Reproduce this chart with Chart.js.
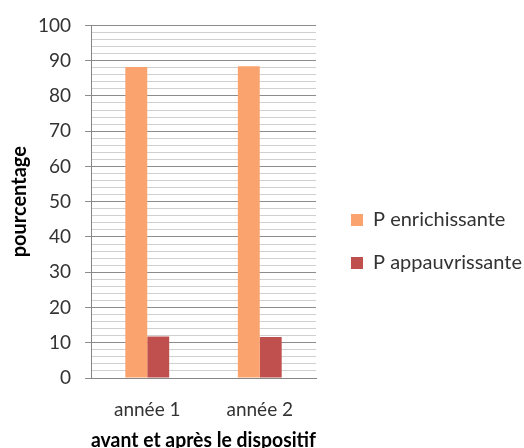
<!DOCTYPE html>
<html>
<head>
<meta charset="utf-8">
<script src="https://cdn.jsdelivr.net/npm/chart.js@4"></script>
<style>
  body { margin: 0; background: #fff; }
</style>
</head>
<body>
<canvas id="myChart" width="524" height="448"></canvas>
<script>
const categories = ['année 1', 'année 2'];
const enrichissante = [88.2, 88.4];
const appauvrissante = [11.8, 11.6];
const yTicks = [0, 10, 20, 30, 40, 50, 60, 70, 80, 90, 100];

// legend sits right of the plot, a bit lower than the chart area centre
const legendPlace = {
    id: 'legendPlace',
    beforeUpdate(chart) {
        const lg = chart.legend;
        if (lg && !lg._patched) {
            const fit = lg.fit;
            lg.fit = function () { fit.call(this); this.width = 208; };
            lg._patched = true;
        }
    },
    afterLayout(chart) {
        const lg = chart.legend;
        lg.left += 12; lg.right += 12;
        lg.top += 5; lg.bottom += 5;
    }
};

const ctx = document.getElementById('myChart');
new Chart(ctx, {
    type: 'bar',
    data: {
        labels: categories,
        datasets: [{
            label: 'P enrichissante',
            data: enrichissante,
            backgroundColor: '#FBA36F',
            categoryPercentage: 0.39,
            barPercentage: 1
        },
        {
            label: 'P appauvrissante',
            data: appauvrissante,
            backgroundColor: '#C0504D',
            categoryPercentage: 0.39,
            barPercentage: 1
        }]
    },
    plugins: [legendPlace],
    options: {
        responsive: false,
        animation: false,
        layout: {
            padding: { left: 8, right: 0, top: 25, bottom: 0 }
        },
        plugins: {
            legend: {
                position: 'right',
                labels: {
                    boxWidth: 12,
                    boxHeight: 12,
                    padding: 23,
                    color: '#333',
                    font: { family: 'Lato', size: 20 }
                }
            },
            tooltip: { enabled: false }
        },
        scales: {
            x: {
                afterFit: (s) => { s.height = 70; },
                grid: { display: false },
                border: { display: true, color: '#868686' },
                ticks: {
                    color: '#333',
                    padding: 12,
                    font: { family: 'Lato', size: 19 }
                },
                title: {
                    display: true,
                    text: 'avant et après le dispositif',
                    color: '#000',
                    padding: { top: 0, bottom: -5 },
                    font: { family: 'Lato', size: 20, weight: 'bold' }
                }
            },
            y: {
                min: 0,
                max: 100,
                afterFit: (s) => { s.width = 83; },
                border: { display: true, color: '#868686' },
                grid: {
                    color: (c) => yTicks.includes(c.tick.value) ? '#8c8c8c' : '#d0d0d0',
                    tickColor: (c) => yTicks.includes(c.tick.value) ? '#8c8c8c' : 'rgba(0,0,0,0)',
                    tickLength: 6
                },
                ticks: {
                    stepSize: 2,
                    autoSkip: false,
                    color: '#333',
                    padding: 14,
                    font: { family: 'Lato', size: 19 },
                    callback: (v) => yTicks.includes(v) ? v : ''
                },
                title: {
                    display: true,
                    text: 'pourcentage',
                    color: '#000',
                    padding: { top: 0, bottom: 0 },
                    font: { family: 'Lato', size: 20, weight: 'bold' }
                }
            }
        }
    }
});
</script>
</body>
</html>
